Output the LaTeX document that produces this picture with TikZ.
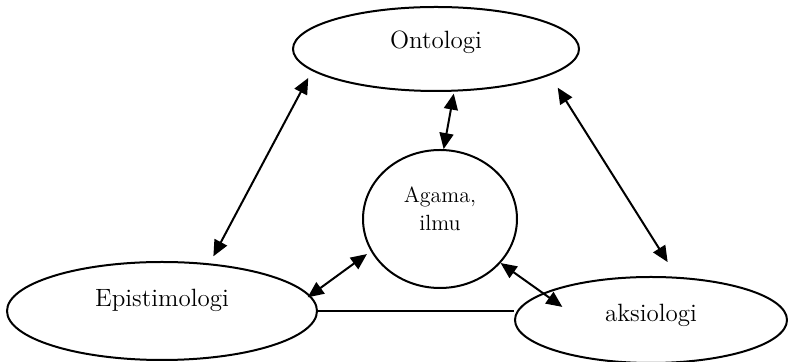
\documentclass[tikz,border=0pt]{standalone}
\usepackage{tikz}
\usetikzlibrary{positioning, arrows.meta, shapes.geometric}

\begin{document}
\begin{tikzpicture}[
    x=0.5pt, y=-0.5pt,
    ellip/.style={ellipse, draw, line width=1pt, inner sep=0pt, align=center, font=\fontsize{12.5}{15}\selectfont},
    arrow/.style={{Triangle[length=8pt, width=7pt]}-{Triangle[length=8pt, width=7pt]}, line width=1pt},
    line/.style={line width=1pt},
]
\useasboundingbox (0,0) rectangle (788,362);
\node[ellip, minimum width=143pt, minimum height=42pt, text height=8pt, text depth=8pt] (ontologi) at (436,49) {Ontologi};
\node[ellip, minimum width=77pt, minimum height=69pt, font=\fontsize{11}{14}\selectfont, text height=21.6pt, text depth=10.4pt] (agama) at (440,219) {Agama,\\ ilmu};
\node[ellip, minimum width=155pt, minimum height=49pt, text height=8pt, text depth=12.3pt] (epist) at (162,311) {Epistimologi};
\node[ellip, minimum width=136pt, minimum height=43pt, text height=8.7pt, text depth=7.5pt] (aksiologi) at (651,320) {aksiologi};
\draw[arrow, shorten <=4pt, shorten >=4pt] (ontologi.190) -- (epist.45);
\draw[arrow, shorten <=1pt] (ontologi.293) -- (agama.87);
\draw[arrow, shorten <=7.3pt, shorten >=8.7pt] (ontologi.347) -- (aksiologi.59);
\draw[arrow, shorten <=2.4pt, shorten >=-1.6pt] (agama.205) -- (epist.6);
\draw[arrow, shorten >=-12pt] (agama.324) -- (aksiologi.166);
\draw[line] (epist.east) -- (epist.east -| aksiologi.west);

\end{tikzpicture}
\end{document}
